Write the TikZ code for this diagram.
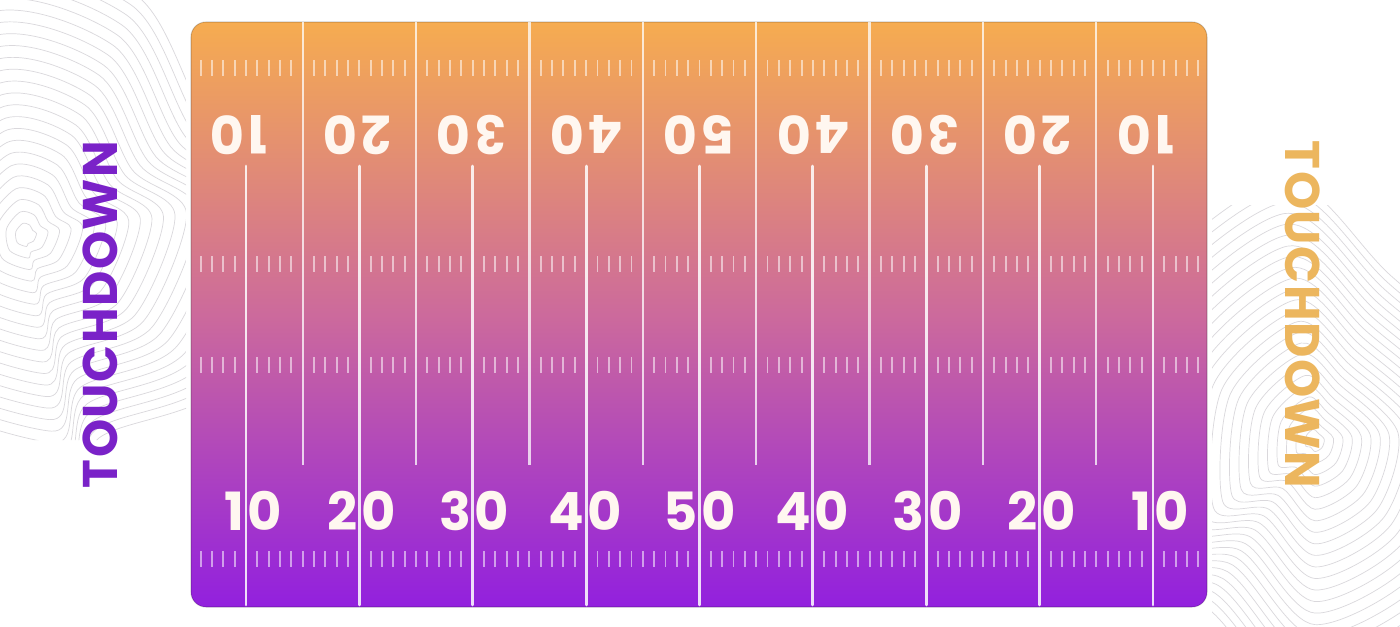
\documentclass[tikz,border=0pt]{standalone}
\usepackage{fontspec}
\setmainfont{Poppins}
\definecolor{fieldtop}{RGB}{246,172,80}
\definecolor{fieldmid}{RGB}{204,106,156}
\definecolor{fieldbot}{RGB}{146,32,222}
\definecolor{tdpurple}{RGB}{122,34,200}
\definecolor{tdorange}{RGB}{236,182,94}
\definecolor{numcream}{RGB}{255,247,240}
\definecolor{topoline}{RGB}{218,216,220}

\begin{document}
\begin{tikzpicture}[x=0.02cm, y=-0.02cm,
    yardnum/.style={font=\fontsize{30}{30}\selectfont\bfseries, text=numcream, inner sep=0pt},
    tdword/.style={font=\fontsize{27.7}{28}\selectfont\bfseries\addfontfeatures{LetterSpace=3}, inner sep=0pt, anchor=base},
    tick/.style={white, opacity=0.55, line width=1.1pt},
    topo/.style={topoline, line width=0.4pt}]
  % canvas
  \fill[white] (0,0) rectangle (1400,626);
  \useasboundingbox (0,0) rectangle (1400,626);

  % topographic lines left and right
  \begin{scope}
    \clip (0,0) rectangle (186,440) (186,0) rectangle (335,20);
    \foreach \s in {1,...,24}
      \draw[topo, shift={(25,235)}, scale=\s/13] plot[smooth cycle] coordinates
        {(-120,-40) (-30,-150) (60,-130) (100,-60) (150,-20) (110,80) (40,110) (20,150) (-100,100)};
  \end{scope}
  \begin{scope}
    \clip (1212,205) rectangle (1400,626);
    \foreach \s in {1,...,24}
      \draw[topo, shift={(1315,440)}, scale=\s/13] plot[smooth cycle] coordinates
        {(-110,-60) (-20,-140) (40,-90) (120,-10) (90,100) (0,150) (-60,90) (-120,80)};
  \end{scope}

  % the field
  \shade[rounded corners=8.5pt, top color=fieldtop, bottom color=fieldbot, middle color=fieldmid]
    (191,22) rectangle (1207,607);
  \draw[rounded corners=8.5pt, black, opacity=0.18, line width=0.6pt] (191,22) rectangle (1207,607);

  % hash marks, one per yard
  \foreach \k in {-4,...,84} {
    \pgfmathtruncatemacro\r{mod(\k+10,10)}
    \pgfmathsetmacro\xk{246+\k*11.3375}
    \ifnum\r=5 \else \draw[tick] (\xk,60) -- (\xk,76); \fi
    \ifnum\r=0 \else \draw[tick] (\xk,551) -- (\xk,567); \fi
    \ifnum\r=0 \else \ifnum\r=5 \else
      \draw[tick] (\xk,256) -- (\xk,272);
      \draw[tick] (\xk,357) -- (\xk,373);
    \fi \fi
  }

  % yard numbers, the two digits either side of the line
  \foreach \a/\b [count=\i from 0] in {1/0,2/0,3/0,4/0,5/0,4/0,3/0,2/0,1/0} {
    \pgfmathsetmacro\xl{246+\i*113.375}
    \node[yardnum, rotate=180, anchor=base east] (topa\i) at (\xl+1.5,115) {\a};
    \node[yardnum, rotate=180, anchor=base west] (topb\i) at (\xl-1.5,115) {\b};
    \node[yardnum, anchor=base east] (bota\i) at (\xl-1.5,530) {\a};
    \node[yardnum, anchor=base west] (botb\i) at (\xl+1.5,530) {\b};
  }

  % yard lines
  \foreach \i in {0,...,7}
    \draw[white, opacity=0.75, line width=1.3pt] (302.7+\i*113.375,22) -- (302.7+\i*113.375,465);
  \foreach \i in {0,...,8}
    \draw[white, opacity=0.85, line width=1.6pt, line cap=round] (246+\i*113.375,166) -- (246+\i*113.375,605);

  % end zone words
  \node[tdword, text=tdpurple, rotate=90] (tdleft) at (117,314.5) {TOUCHDOWN};
  \node[tdword, text=tdorange, rotate=-90] (tdright) at (1285,314.5) {TOUCHDOWN};
\end{tikzpicture}
\end{document}
